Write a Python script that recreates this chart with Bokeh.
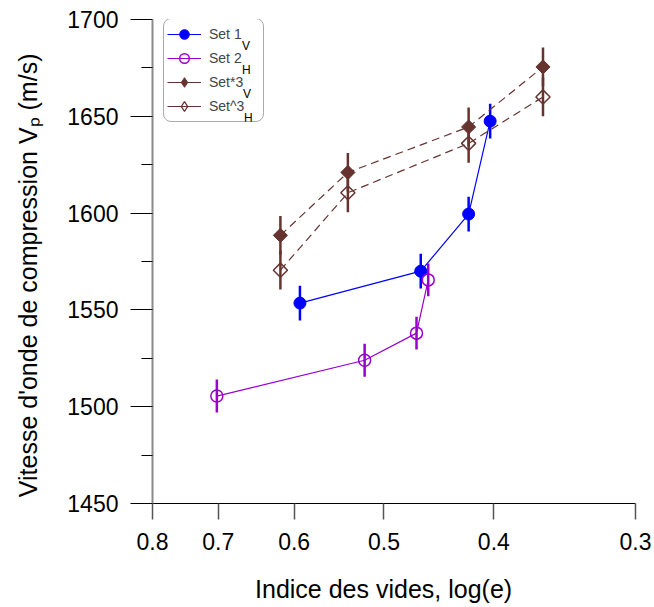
import numpy as np
from bokeh.plotting import figure
from bokeh.models import Range1d, FixedTicker, PrintfTickFormatter, Legend, LegendItem, Label
from bokeh.embed import file_html
from bokeh.resources import INLINE

# ---- data ----
set1_x = [0.593, 0.464, 0.421, 0.403]
set1_y = [1553.5, 1570.0, 1599.5, 1647.5]
set1_err = [9.0, 9.0, 9.0, 9.0]

set2_x = [0.702, 0.520, 0.468, 0.457]
set2_y = [1505.5, 1524.0, 1538.0, 1565.5]
set2_err = [8.5, 8.5, 8.5, 8.5]

set3v_x = [0.617, 0.538, 0.421, 0.362]
set3v_y = [1588.5, 1621.0, 1644.5, 1675.5]
set3v_err = [10.0, 10.0, 10.0, 10.0]

set3h_x = [0.617, 0.538, 0.421, 0.362]
set3h_y = [1570.5, 1610.5, 1636.0, 1660.0]
set3h_err = [10.0, 10.0, 10.0, 10.0]

x_ticks = [0.8, 0.7, 0.6, 0.5, 0.4, 0.3]
y_ticks = [1450, 1500, 1550, 1600, 1650, 1700]
y_minor = [1475, 1525, 1575, 1625, 1675]

legend_labels = ["Set 1", "Set 2", "Set*3", "Set^3"]
legend_subs = ["V", "H", "V", "H"]

FONT = "Liberation Sans"
BLUE = "#0000FF"
PURPLE = "#9900CC"
BROWN = "#66332F"
NB = "\u00a0"

p = figure(width=654, height=607, x_axis_type="log",
           x_range=Range1d(0.8, 0.3), y_range=Range1d(1450, 1700),
           output_backend="svg", toolbar_location=None,
           min_border_left=152, min_border_right=19,
           min_border_top=19, min_border_bottom=104)
p.outline_line_color = None
p.grid.visible = False
p.background_fill_color = "white"
p.border_fill_color = "white"

xa = p.xaxis[0]
xa.ticker = FixedTicker(ticks=x_ticks, minor_ticks=[])
xa.formatter = PrintfTickFormatter(format="%.1f")
xa.axis_line_color = "black"
xa.axis_line_width = 1
xa.major_tick_out = 16
xa.major_tick_in = 0
xa.minor_tick_out = 0
xa.minor_tick_in = 0
xa.major_tick_line_color = "#555555"
xa.major_tick_line_width = 1.5
xa.major_label_standoff = 13
xa.major_label_text_font = FONT
xa.major_label_text_font_size = "23px"
xa.major_label_text_color = "black"
xa.axis_label = "Indice des vides, log(e)" + NB * 3
xa.axis_label_text_font = FONT
xa.axis_label_text_font_size = "25px"
xa.axis_label_text_font_style = "normal"
xa.axis_label_text_color = "black"
xa.axis_label_standoff = 22

ya = p.yaxis[0]
ya.ticker = FixedTicker(ticks=y_ticks, minor_ticks=y_minor)
ya.axis_line_color = "#8a8a8a"
ya.axis_line_width = 2
ya.major_tick_out = 22
ya.major_tick_in = 0
ya.minor_tick_out = 11
ya.minor_tick_in = 0
ya.major_tick_line_color = "black"
ya.minor_tick_line_color = "black"
ya.major_label_standoff = 12
ya.major_label_text_font = FONT
ya.major_label_text_font_size = "23px"
ya.major_label_text_color = "black"
ya.axis_label = "Vitesse d'onde de compression V\u209a (m/s)" + NB * 4
ya.axis_label_text_font = FONT
ya.axis_label_text_font_size = "25px"
ya.axis_label_text_font_style = "normal"
ya.axis_label_text_color = "black"
ya.axis_label_standoff = 22


def lo(y, e):
    return [a - b for a, b in zip(y, e)]


def hi(y, e):
    return [a + b for a, b in zip(y, e)]


# Set 1 (V)
r1l = p.line(set1_x, set1_y, line_color=BLUE, line_width=1.2)
p.segment(x0=set1_x, y0=lo(set1_y, set1_err), x1=set1_x, y1=hi(set1_y, set1_err),
          line_color=BLUE, line_width=2.5)
r1m = p.scatter(set1_x, set1_y, marker="circle", size=12, fill_color=BLUE, line_color=BLUE)

# Set 2 (H)
r2l = p.line(set2_x, set2_y, line_color=PURPLE, line_width=1.2)
p.segment(x0=set2_x, y0=lo(set2_y, set2_err), x1=set2_x, y1=hi(set2_y, set2_err),
          line_color=PURPLE, line_width=2.5)
r2m = p.scatter(set2_x, set2_y, marker="circle", size=12, fill_color=None,
                line_color=PURPLE, line_width=1.5)

# Set*3 (V)
p.line(set3v_x, set3v_y, line_color=BROWN, line_width=1.2, line_dash="8 5")
p.segment(x0=set3v_x, y0=lo(set3v_y, set3v_err), x1=set3v_x, y1=hi(set3v_y, set3v_err),
          line_color=BROWN, line_width=2.5)
p.scatter(set3v_x, set3v_y, marker="square", angle=np.pi / 4, size=10,
          fill_color=BROWN, line_color=BROWN)

# Set^3 (H)
p.line(set3h_x, set3h_y, line_color=BROWN, line_width=1.2, line_dash="8 5")
p.segment(x0=set3h_x, y0=lo(set3h_y, set3h_err), x1=set3h_x, y1=hi(set3h_y, set3h_err),
          line_color=BROWN, line_width=2.5)
p.scatter(set3h_x, set3h_y, marker="square", angle=np.pi / 4, size=10,
          fill_color=None, line_color=BROWN, line_width=1.5)

# legend proxies for the brown series (solid line, diamond markers); NaN = not drawn
nan = [float("nan")]
r3l = p.line(x=nan, y=nan, line_color=BROWN, line_width=1.2)
r3m = p.scatter(x=nan, y=nan, marker="diamond", fill_color=BROWN, line_color=BROWN)
r4m = p.scatter(x=nan, y=nan, marker="diamond", fill_color=None, line_color=BROWN,
                line_width=1.3)

legend = Legend(items=[
    LegendItem(label=legend_labels[0], renderers=[r1l, r1m]),
    LegendItem(label=legend_labels[1], renderers=[r2l, r2m]),
    LegendItem(label=legend_labels[2], renderers=[r3l, r3m]),
    LegendItem(label=legend_labels[3], renderers=[r3l, r4m]),
], location=(11, 381), orientation="vertical", glyph_width=34, glyph_height=24,
    label_height=24, label_width=51, label_standoff=8, padding=3, spacing=0, margin=0,
    border_line_color="#555555", border_line_width=1.5,
    label_text_font=FONT, label_text_font_size="14px",
    background_fill_alpha=0.0)
if "border_radius" in Legend.properties():
    legend.border_radius = 8
p.add_layout(legend)

sub_x = [89.5, 89.5, 90.5, 91.5]
for i, t in enumerate(legend_subs):
    p.add_layout(Label(x=sub_x[i], y=458 - 24 * i, x_units="screen", y_units="screen",
                       text=t, text_font=FONT, text_font_size="12px", level="overlay",
                       text_baseline="alphabetic", text_align="left", text_color="black"))

open("out.html", "w").write(file_html(p, INLINE))
